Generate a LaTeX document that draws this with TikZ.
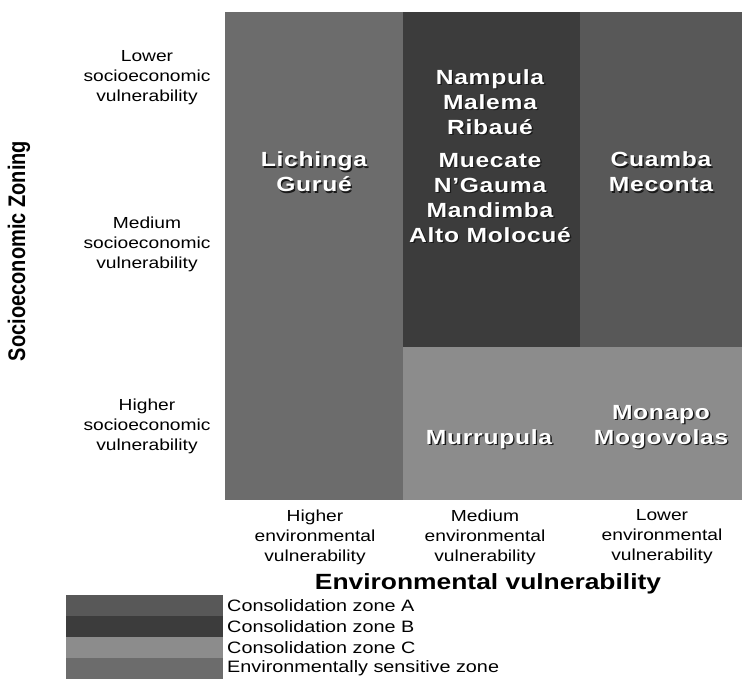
\documentclass[tikz,border=0pt]{standalone}
\usepackage{fontspec}
\setmainfont{Liberation Sans}
\definecolor{zoneA}{HTML}{585858}
\definecolor{zoneB}{HTML}{3C3C3C}
\definecolor{zoneC}{HTML}{8C8C8C}
\definecolor{zoneE}{HTML}{6C6C6C}
\definecolor{shade}{HTML}{1A1A1A}
\tikzset{
  wide/.style={xscale=1.2},
  city/.style={wide, inner sep=0pt, align=center, text=white,
    font=\fontsize{20.5}{25}\selectfont\bfseries\addfontfeature{LetterSpace=3}},
  cityshadow/.style={city, text=shade},
  axislabel/.style={wide, inner sep=0pt, align=center, text=black,
    font=\fontsize{16}{20}\selectfont},
  axistitle/.style={wide, inner sep=0pt, text=black,
    font=\fontsize{22}{26}\selectfont\bfseries},
  legendtext/.style={wide, inner sep=0pt, anchor=west, text=black,
    font=\fontsize{16.5}{19}\selectfont}
}
% white lettering with a dark drop shadow
\newcommand\placename[4]{%
  \node[cityshadow] (#1-shadow) at ([xshift=1.4pt,yshift=-1.4pt]#2,#3) {#4};
  \node[city] (#1) at (#2,#3) {#4};}
\begin{document}
\begin{tikzpicture}[x=1pt,y=-1pt]
\useasboundingbox (0,0) rectangle (742,680);
\fill[white] (0,0) rectangle (742,680);

% zoning matrix
\fill[zoneE] (225,12) rectangle (403,500);
\fill[zoneB] (403,12) rectangle (580,347);
\fill[zoneA] (580,12) rectangle (742,347);
\fill[zoneC] (403,347) rectangle (742,500);

% municipalities
\placename{lichinga}{314}{172}{Lichinga\\Guru\'e}
\placename{nampula}{490}{102}{Nampula\\Malema\\Ribau\'e}
\placename{muecate}{490}{198}{Muecate\\N'Gauma\\Mandimba\\Alto Molocu\'e}
\placename{cuamba}{661}{172}{Cuamba\\Meconta}
\placename{monapo}{661}{427}{Monapo\\Mogovolas}
\placename{murrupula}{489}{439}{Murrupula}

% socioeconomic axis
\node[axislabel] (socLow) at (147,77.5) {Lower\\socioeconomic\\vulnerability};
\node[axislabel] (socMed) at (147,244) {Medium\\socioeconomic\\vulnerability};
\node[axislabel] (socHigh) at (147,426) {Higher\\socioeconomic\\vulnerability};
\node[inner sep=0pt, rotate=90, font=\fontsize{20}{22}\selectfont\bfseries]
  (socTitle) at (19,251) {\scalebox{1}[1.2]{Socioeconomic Zoning}};

% environmental axis
\node[axislabel] (envHigh) at (315,537) {Higher\\environmental\\vulnerability};
\node[axislabel] (envMed) at (485,537) {Medium\\environmental\\vulnerability};
\node[axislabel] (envLow) at (662,537) {Lower\\environmental\\vulnerability};
\node[axistitle] (envTitle) at (488,584) {Environmental vulnerability};

% legend
\fill[zoneA] (66,595) rectangle (223,616);
\fill[zoneB] (66,616) rectangle (223,637);
\fill[zoneC] (66,637) rectangle (223,658);
\fill[zoneE] (66,658) rectangle (223,679);
\node[legendtext] (legA) at (227,605.5) {Consolidation zone A};
\node[legendtext] (legB) at (227,626.5) {Consolidation zone B};
\node[legendtext] (legC) at (227,647.5) {Consolidation zone C};
\node[legendtext] (legE) at (227,668.5) {Environmentally sensitive zone};
\end{tikzpicture}
\end{document}
